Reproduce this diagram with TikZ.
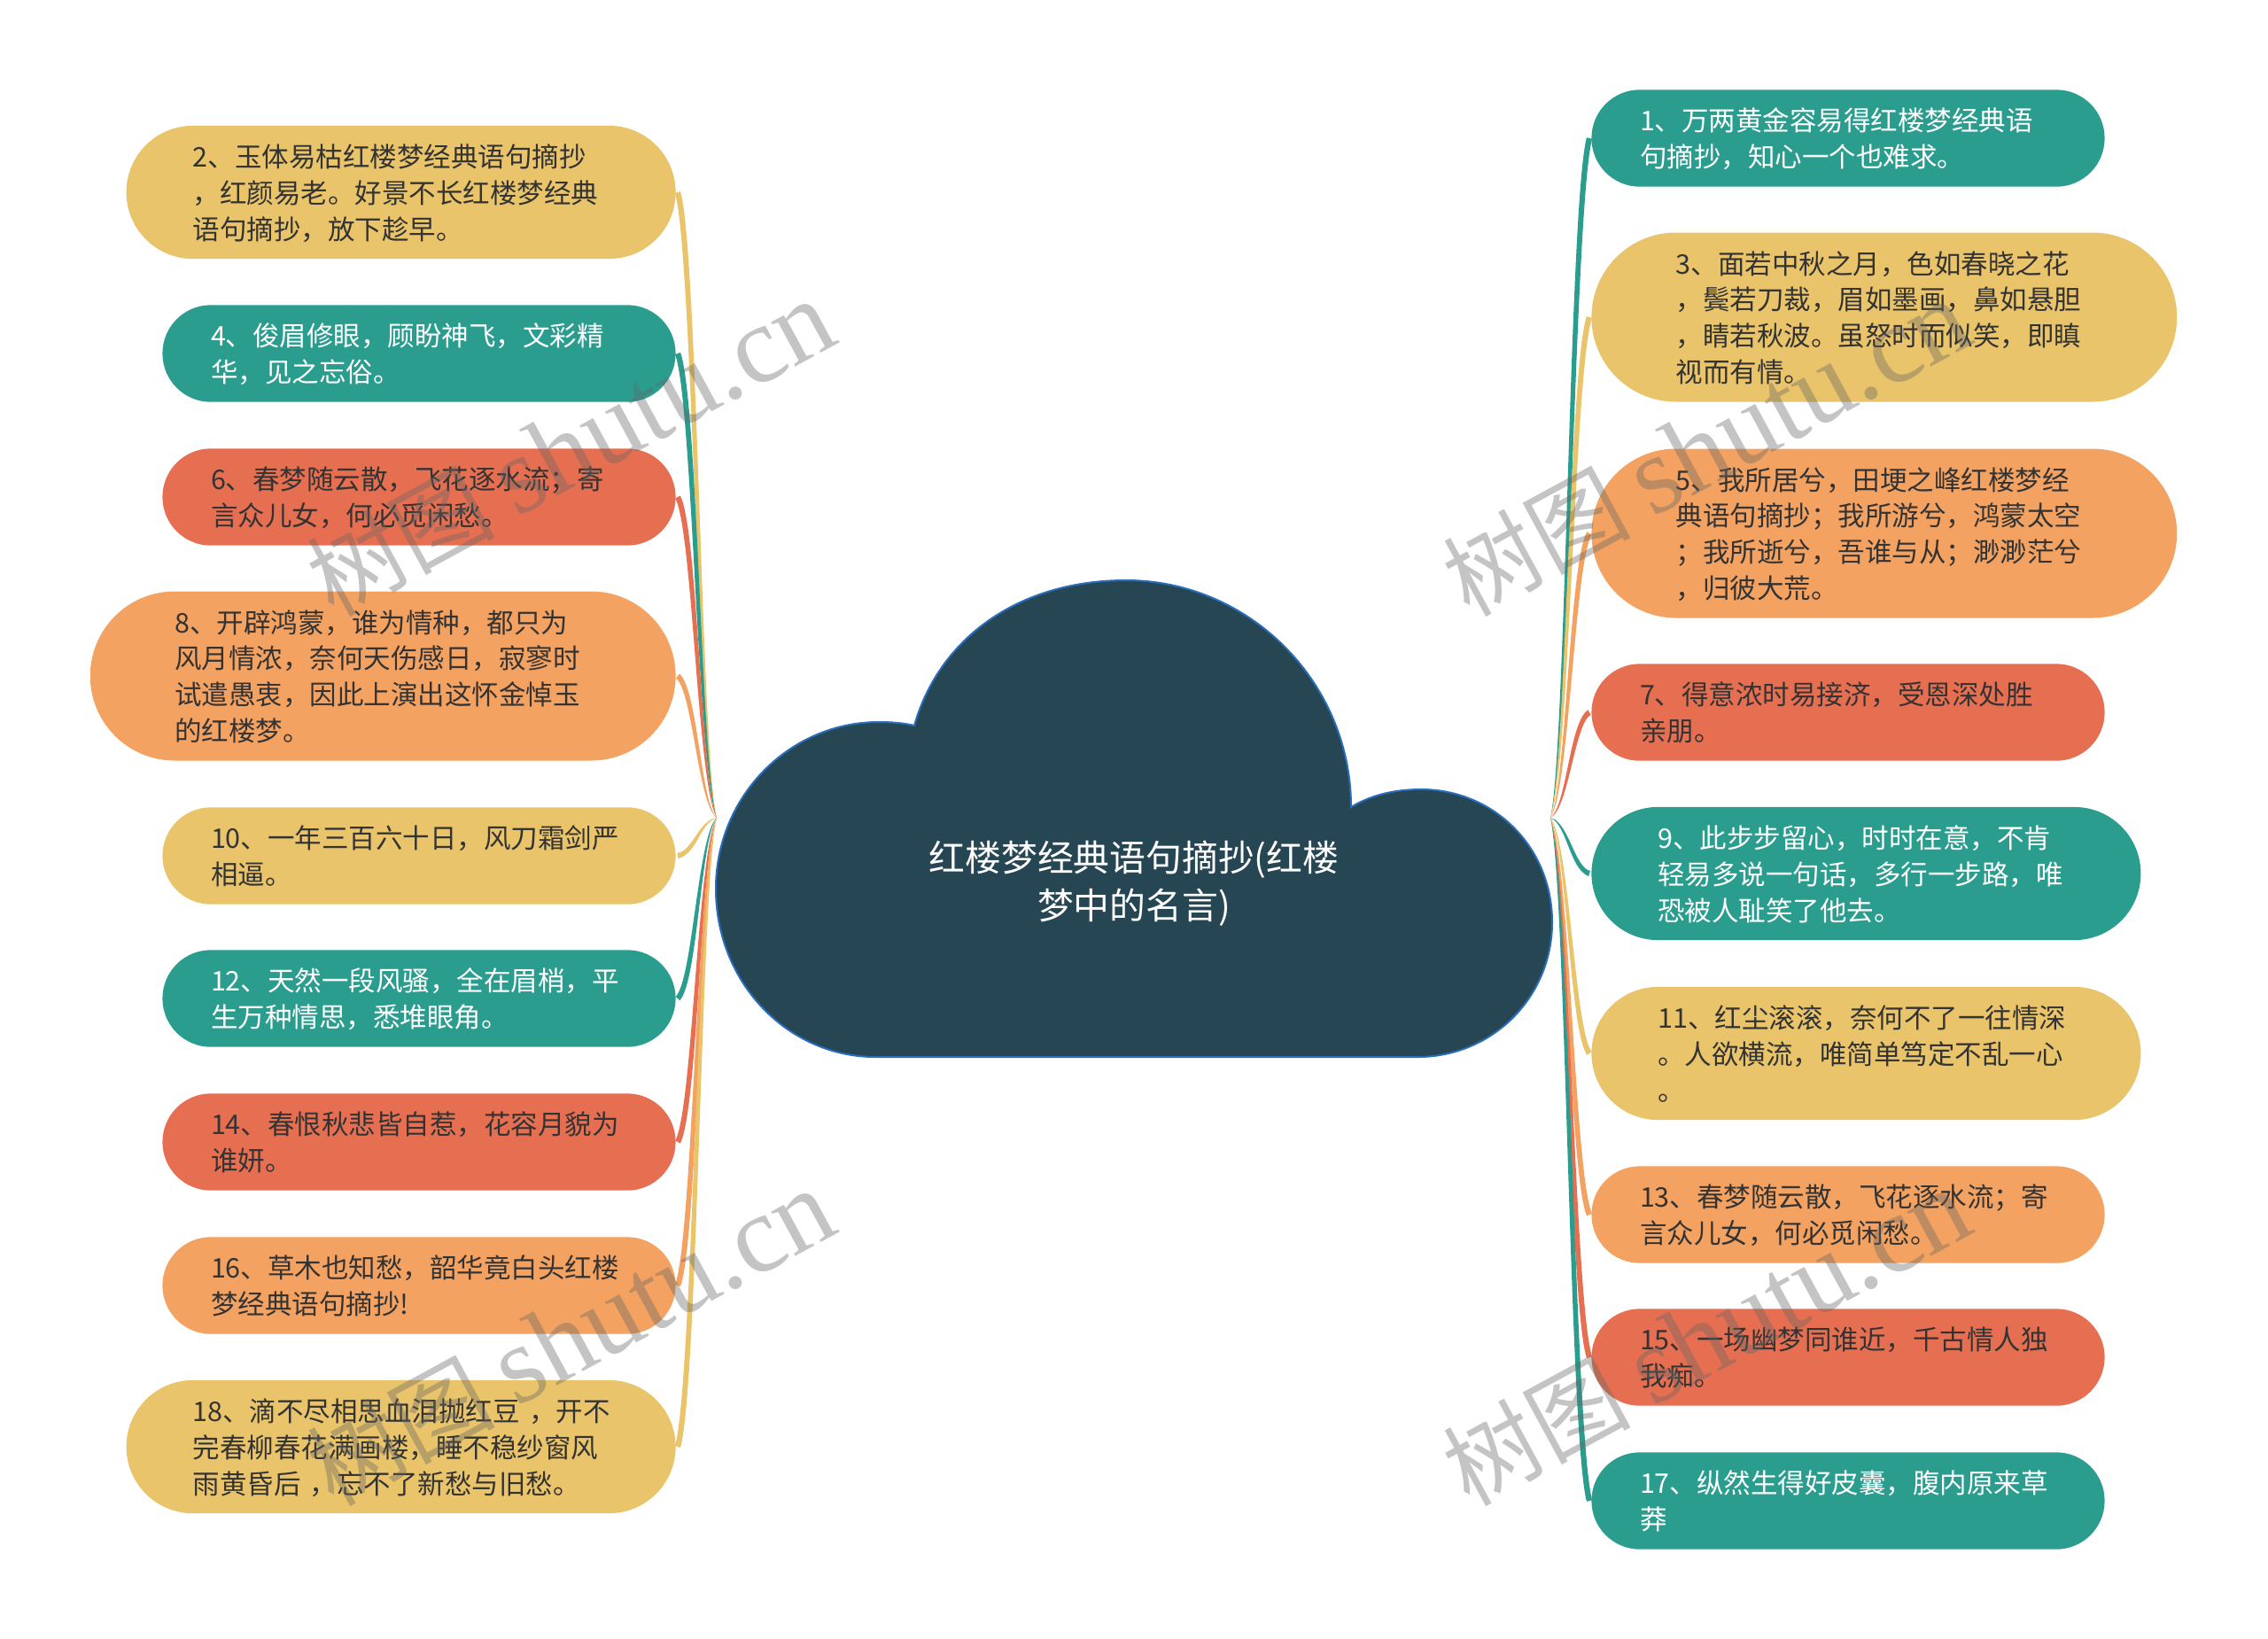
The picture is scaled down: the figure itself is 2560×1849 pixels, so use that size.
\documentclass[tikz,border=0pt]{standalone}
\usepackage{fontspec}
\setmainfont{Noto Sans CJK SC}
\newfontfamily\wmlatin{Liberation Serif}
\usetikzlibrary{calc}
\definecolor{cyellow}{HTML}{E9C46A}
\definecolor{cteal}{HTML}{2A9D8F}
\definecolor{cred}{HTML}{E76F51}
\definecolor{corange}{HTML}{F4A261}
\definecolor{chub}{HTML}{264653}
\definecolor{cedge}{HTML}{2A6DBB}
\definecolor{ctext}{HTML}{333333}
\tikzset{
  pill/.style={rectangle,text width=235pt,align=left,inner ysep=0pt,
    font=\fontsize{15.25pt}{20.4pt}\selectfont,text=ctext,
    execute at begin node={\rule{0pt}{15.2pt}},
    execute at end node={\rule[-3pt]{0pt}{3pt}}},
  pillS/.style={pill,inner xsep=27.3pt,minimum height=54.7pt,rounded corners=27.3pt},
  pillM/.style={pill,inner xsep=37.5pt,minimum height=75.1pt,rounded corners=37.5pt},
  pillL/.style={pill,inner xsep=47.7pt,minimum height=95.5pt,rounded corners=47.7pt},
  hubtext/.style={align=center,text=white,font=\fontsize{20.4pt}{27pt}\selectfont},
  wmark/.style={rotate=28.5,text=black!60,opacity=.38,font=\fontsize{53pt}{53pt}\selectfont}
}
% tapered connector: wide at the box end #1, a point at the hub end #2
\def\hw{1.6pt}
\newcommand{\taper}[3]{%
  \coordinate (A) at (#1);
  \coordinate (B) at (#2);
  \coordinate (pa) at ($(A)!.45!(B)$);
  \coordinate (pb) at ($(A)!.10!(B)$);
  \coordinate (qa) at ($(A)!.55!(B)$);
  \coordinate (qb) at ($(A)!.90!(B)$);
  \coordinate (Ca) at (pa |- pb);
  \coordinate (Cb) at (qa |- qb);
  \fill[#3] ($(A)!\hw!90:(Ca)$)
    .. controls ($(Ca)!1.5pt!90:(Cb)$) and ($(Cb)!1.1pt!90:(B)$) .. (B)
    .. controls ($(Cb)!1.1pt!-90:(B)$) and ($(Ca)!1.5pt!-90:(Cb)$) .. ($(A)!\hw!-90:(Ca)$)
    -- cycle;}
\begin{document}
\begin{tikzpicture}[x=0.5pt,y=-0.5pt]
\useasboundingbox (0,0) rectangle (2560,1849);
\fill[white] (0,0) rectangle (2560,1849);
\coordinate (jl) at (809,923);
\coordinate (jr) at (1750,923);
% left boxes
\node[pillM,fill=cyellow,anchor=east] (p2) at (763,217) {2、玉体易枯红楼梦经典语句摘抄\\，红颜易老。好景不长红楼梦经典\\语句摘抄，放下趁早。};
\node[pillS,fill=cteal,text=white,anchor=east] (p4) at (763,399) {4、俊眉修眼，顾盼神飞，文彩精\\华，见之忘俗。};
\node[pillS,fill=cred,anchor=east] (p6) at (763,561) {6、春梦随云散，飞花逐水流；寄\\言众儿女，何必觅闲愁。};
\node[pillL,fill=corange,anchor=east] (p8) at (763,763) {8、开辟鸿蒙，谁为情种，都只为\\风月情浓，奈何天伤感日，寂寥时\\试遣愚衷，因此上演出这怀金悼玉\\的红楼梦。};
\node[pillS,fill=cyellow,anchor=east] (p10) at (763,966) {10、一年三百六十日，风刀霜剑严\\相逼。};
\node[pillS,fill=cteal,text=white,anchor=east] (p12) at (763,1127) {12、天然一段风骚，全在眉梢，平\\生万种情思，悉堆眼角。};
\node[pillS,fill=cred,anchor=east] (p14) at (763,1289) {14、春恨秋悲皆自惹，花容月貌为\\谁妍。};
\node[pillS,fill=corange,anchor=east] (p16) at (763,1451) {16、草木也知愁，韶华竟白头红楼\\梦经典语句摘抄!};
\node[pillM,fill=cyellow,anchor=east] (p18) at (763,1633) {\mbox{18、滴不尽相思血泪抛红豆 ，开不}\\完春柳春花满画楼，睡不稳纱窗风\\雨黄昏后 ，忘不了新愁与旧愁。};
% right boxes
\node[pillS,fill=cteal,text=white,anchor=west] (p1) at (1796,156) {1、万两黄金容易得红楼梦经典语\\句摘抄，知心一个也难求。};
\node[pillL,fill=cyellow,anchor=west] (p3) at (1796,358) {3、面若中秋之月，色如春晓之花\\，鬓若刀裁，眉如墨画，鼻如悬胆\\，睛若秋波。虽怒时而似笑，即瞋\\视而有情。};
\node[pillL,fill=corange,anchor=west] (p5) at (1796,602) {5、我所居兮，田埂之峰红楼梦经\\典语句摘抄；我所游兮，鸿蒙太空\\；我所逝兮，吾谁与从；渺渺茫兮\\，归彼大荒。};
\node[pillS,fill=cred,anchor=west] (p7) at (1796,804) {7、得意浓时易接济，受恩深处胜\\亲朋。};
\node[pillM,fill=cteal,text=white,anchor=west] (p9) at (1796,986) {9、此步步留心，时时在意，不肯\\轻易多说一句话，多行一步路，唯\\恐被人耻笑了他去。};
\node[pillM,fill=cyellow,anchor=west] (p11) at (1796,1189) {11、红尘滚滚，奈何不了一往情深\\。人欲横流，唯简单笃定不乱一心\\。};
\node[pillS,fill=corange,anchor=west] (p13) at (1796,1371) {13、春梦随云散，飞花逐水流；寄\\言众儿女，何必觅闲愁。};
\node[pillS,fill=cred,anchor=west] (p15) at (1796,1532) {15、一场幽梦同谁近，千古情人独\\我痴。};
\node[pillS,fill=cteal,text=white,anchor=west] (p17) at (1796,1694) {17、纵然生得好皮囊，腹内原来草\\莽};
% connectors
\taper{$(p2.east)+(2,0)$}{jl}{cyellow}
\taper{$(p4.east)+(2,0)$}{jl}{cteal}
\taper{$(p6.east)+(2,0)$}{jl}{cred}
\taper{$(p8.east)+(2,0)$}{jl}{corange}
\taper{$(p10.east)+(2,0)$}{jl}{cyellow}
\taper{$(p12.east)+(2,0)$}{jl}{cteal}
\taper{$(p14.east)+(2,0)$}{jl}{cred}
\taper{$(p16.east)+(2,0)$}{jl}{corange}
\taper{$(p18.east)+(2,0)$}{jl}{cyellow}
\taper{$(p1.west)+(-2,0)$}{jr}{cteal}
\taper{$(p3.west)+(-2,0)$}{jr}{cyellow}
\taper{$(p5.west)+(-2,0)$}{jr}{corange}
\taper{$(p7.west)+(-2,0)$}{jr}{cred}
\taper{$(p9.west)+(-2,0)$}{jr}{cteal}
\taper{$(p11.west)+(-2,0)$}{jr}{cyellow}
\taper{$(p13.west)+(-2,0)$}{jr}{corange}
\taper{$(p15.west)+(-2,0)$}{jr}{cred}
\taper{$(p17.west)+(-2,0)$}{jr}{cteal}
% cloud
\draw[fill=chub,draw=cedge,line width=1pt]
  (988,1193) .. controls (890,1193) and (808,1110) .. (808,1003)
  .. controls (808,900) and (890,815) .. (992,815)
  .. controls (1006,815) and (1020,816) .. (1032,819)
  .. controls (1060,720) and (1150,655) .. (1271,655)
  .. controls (1410,655) and (1525,770) .. (1525,911)
  .. controls (1548,897) and (1575,891) .. (1604,891)
  .. controls (1685,891) and (1752,955) .. (1752,1041)
  .. controls (1752,1125) and (1685,1193) .. (1600,1193) -- cycle;
\node[hubtext] (hub) at (1280,997.5) {红楼梦经典语句摘抄(红楼\\梦中的名言)};
% watermarks
\node[wmark] (w1) at (644,506) {树图 {\wmlatin\fontsize{62pt}{62pt}\selectfont shutu.cn}};
\node[wmark] (w2) at (1926,506) {树图 {\wmlatin\fontsize{62pt}{62pt}\selectfont shutu.cn}};
\node[wmark] (w3) at (644,1510) {树图 {\wmlatin\fontsize{62pt}{62pt}\selectfont shutu.cn}};
\node[wmark] (w4) at (1926,1510) {树图 {\wmlatin\fontsize{62pt}{62pt}\selectfont shutu.cn}};
\end{tikzpicture}
\end{document}
